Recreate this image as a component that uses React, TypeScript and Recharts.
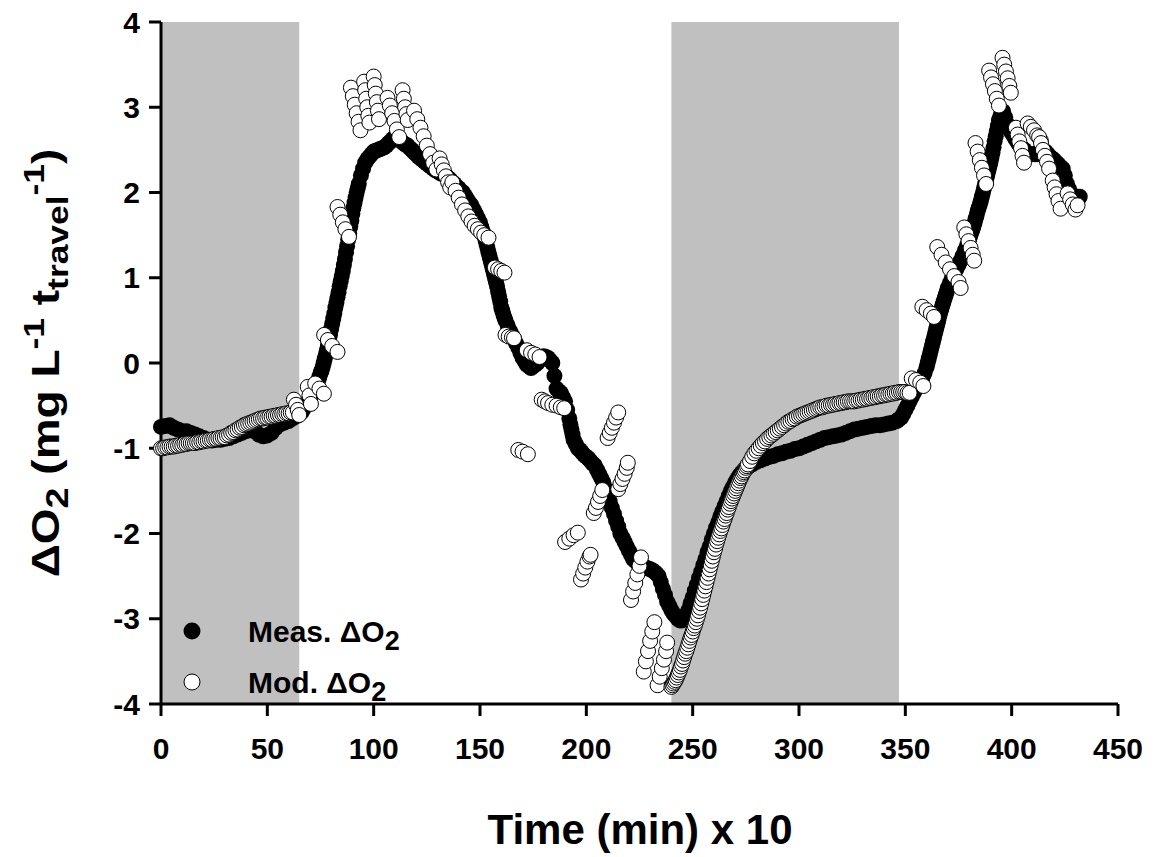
import { Label, Legend, ReferenceArea, Scatter, ScatterChart, XAxis, YAxis } from "recharts";

const FONT = '"Liberation Sans", Arial, Helvetica, sans-serif';

const xTicks = [0, 50, 100, 150, 200, 250, 300, 350, 400, 450];
const yTicks = [-4, -3, -2, -1, 0, 1, 2, 3, 4];
// dark (shaded) periods, time (min) x 10
const darkPeriods: [number, number][] = [
  [0, 65],
  [240, 347],
];

// measured dO2, [time, value]
const measured: [number, number][] = [
  [0, -0.75], [2, -0.74], [4, -0.73], [6, -0.76], [8, -0.78], [10, -0.8], [12, -0.8], [14, -0.82],
  [16, -0.84], [18, -0.86], [20, -0.88], [22, -0.9], [24, -0.91], [26, -0.9], [28, -0.9], [30, -0.89],
  [32, -0.88], [34, -0.86], [36, -0.84], [38, -0.82], [40, -0.8], [42, -0.79], [44, -0.8], [46, -0.84],
  [48, -0.86], [50, -0.85], [52, -0.82], [54, -0.76], [56, -0.72], [58, -0.7], [60, -0.68], [62, -0.65],
  [64, -0.62], [65, -0.6], [66, -0.58], [67, -0.54], [68, -0.5], [69, -0.46], [70, -0.42], [71, -0.37],
  [72, -0.32], [73, -0.26], [74, -0.2], [74.5, -0.16], [75, -0.12], [75.5, -0.09], [76, -0.05], [76.5, 0.0],
  [77, 0.05], [77.5, 0.1], [78, 0.15], [78.5, 0.21], [79, 0.27], [79.5, 0.33], [80, 0.4], [80.5, 0.46],
  [81, 0.52], [81.5, 0.58], [82, 0.65], [82.5, 0.71], [83, 0.77], [83.5, 0.83], [84, 0.9], [84.5, 0.96],
  [85, 1.02], [85.5, 1.08], [86, 1.15], [86.5, 1.22], [87, 1.3], [87.5, 1.37], [88, 1.45], [88.5, 1.52],
  [89, 1.6], [89.5, 1.67], [90, 1.75], [90.5, 1.82], [91, 1.88], [91.5, 1.94], [92, 2.0], [92.5, 2.05],
  [93, 2.1], [94, 2.2], [95, 2.28], [96, 2.35], [97, 2.39], [98, 2.42], [99, 2.45], [100, 2.48],
  [101, 2.49], [102, 2.5], [103, 2.51], [104, 2.52], [105, 2.53], [106, 2.55], [107, 2.58], [108, 2.6],
  [109, 2.63], [110, 2.65], [111, 2.64], [112, 2.62], [113, 2.6], [114, 2.58], [115, 2.56], [116, 2.55],
  [117, 2.52], [118, 2.5], [119, 2.47], [120, 2.45], [121, 2.42], [122, 2.4], [123, 2.38], [124, 2.36],
  [125, 2.34], [126, 2.32], [127, 2.3], [128, 2.28], [129, 2.26], [130, 2.25], [131, 2.23], [132, 2.22],
  [133, 2.21], [134, 2.2], [135, 2.17], [136, 2.15], [137, 2.12], [138, 2.1], [139, 2.07], [140, 2.05],
  [141, 2.02], [142, 2.0], [143, 1.96], [144, 1.92], [145, 1.88], [146, 1.85], [147, 1.8], [148, 1.75],
  [149, 1.7], [150, 1.65], [150.5, 1.6], [151, 1.56], [151.5, 1.53], [152, 1.5], [152.5, 1.45], [153, 1.4],
  [153.5, 1.35], [154, 1.3], [154.5, 1.25], [155, 1.2], [155.5, 1.15], [156, 1.1], [156.5, 1.05], [157, 1.0],
  [157.5, 0.95], [158, 0.9], [158.5, 0.84], [159, 0.78], [159.5, 0.72], [160, 0.65], [160.5, 0.61], [161, 0.57],
  [161.5, 0.53], [162, 0.5], [163, 0.44], [164, 0.38], [165, 0.33], [166, 0.28], [167, 0.23], [168, 0.18],
  [169, 0.12], [170, 0.06], [171, 0.02], [172, -0.02], [173, -0.04], [174, -0.06], [175, -0.04], [176, -0.02],
  [177, 0.0], [178, 0.03], [179, 0.06], [180, 0.08], [181, 0.07], [182, 0.06], [183, 0.03], [184, 0.0],
  [185, -0.15], [186, -0.3], [187, -0.33], [188, -0.35], [189, -0.4], [190, -0.45], [191, -0.55], [192, -0.65],
  [192.5, -0.72], [193, -0.78], [193.5, -0.84], [194, -0.9], [195, -0.95], [196, -1.0], [197, -1.02], [198, -1.05],
  [199, -1.08], [200, -1.1], [201, -1.12], [202, -1.15], [203, -1.18], [204, -1.2], [205, -1.25], [206, -1.3],
  [207, -1.35], [208, -1.4], [209, -1.47], [210, -1.55], [211, -1.62], [212, -1.7], [213, -1.77], [214, -1.85],
  [215, -1.92], [216, -2.0], [217, -2.05], [218, -2.1], [219, -2.15], [220, -2.2], [221, -2.25], [222, -2.3],
  [223, -2.32], [224, -2.35], [225, -2.37], [226, -2.38], [227, -2.39], [228, -2.4], [229, -2.41], [230, -2.42],
  [231, -2.43], [232, -2.45], [233, -2.47], [234, -2.5], [235, -2.57], [236, -2.65], [237, -2.72], [238, -2.8],
  [239, -2.85], [240, -2.9], [241, -2.94], [242, -2.97], [243, -3.0], [244, -3.02], [245, -3.02], [246, -3.0],
  [247, -2.95], [248, -2.9], [249, -2.82], [250, -2.75], [251, -2.67], [252, -2.6], [253, -2.52], [254, -2.45],
  [255, -2.37], [256, -2.3], [257, -2.22], [258, -2.15], [259, -2.07], [260, -2.0], [261, -1.93], [262, -1.87],
  [263, -1.8], [264, -1.74], [265, -1.68], [266, -1.62], [267, -1.56], [268, -1.5], [269, -1.45], [270, -1.4],
  [271, -1.36], [272, -1.32], [273, -1.29], [274, -1.26], [275, -1.24], [276, -1.22], [278, -1.19], [280, -1.16],
  [282, -1.14], [284, -1.12], [286, -1.1], [288, -1.09], [290, -1.07], [292, -1.06], [294, -1.04], [296, -1.03],
  [298, -1.01], [300, -1.0], [302, -0.98], [304, -0.96], [306, -0.94], [308, -0.92], [310, -0.9], [312, -0.88],
  [314, -0.87], [316, -0.86], [318, -0.85], [320, -0.84], [322, -0.82], [324, -0.8], [326, -0.78], [328, -0.77],
  [330, -0.76], [332, -0.75], [334, -0.74], [336, -0.73], [338, -0.73], [340, -0.72], [342, -0.71], [344, -0.7],
  [346, -0.68], [347, -0.66], [348, -0.64], [349, -0.6], [350, -0.55], [351, -0.5], [352, -0.45], [353, -0.4],
  [354, -0.35], [355, -0.3], [356, -0.25], [357, -0.21], [358, -0.18], [359, -0.12], [360, -0.05], [360.5, 0.0],
  [361, 0.05], [361.5, 0.1], [362, 0.15], [362.5, 0.2], [363, 0.25], [363.5, 0.3], [364, 0.35], [364.5, 0.4],
  [365, 0.45], [365.5, 0.5], [366, 0.55], [366.5, 0.6], [367, 0.64], [367.5, 0.68], [368, 0.72], [368.5, 0.76],
  [369, 0.8], [369.5, 0.84], [370, 0.88], [371, 0.94], [372, 1.0], [373, 1.05], [374, 1.1], [375, 1.15],
  [376, 1.2], [377, 1.26], [378, 1.32], [379, 1.38], [380, 1.45], [380.5, 1.49], [381, 1.53], [381.5, 1.56],
  [382, 1.6], [382.5, 1.64], [383, 1.69], [383.5, 1.73], [384, 1.78], [384.5, 1.82], [385, 1.86], [385.5, 1.9],
  [386, 1.95], [386.5, 2.0], [387, 2.05], [387.5, 2.1], [388, 2.15], [388.5, 2.2], [389, 2.25], [389.5, 2.3],
  [390, 2.35], [390.5, 2.41], [391, 2.47], [391.5, 2.53], [392, 2.6], [392.5, 2.66], [393, 2.72], [393.5, 2.78],
  [394, 2.85], [394.5, 2.88], [395, 2.92], [395.5, 2.94], [396, 2.95], [397, 2.88], [398, 2.8], [399, 2.75],
  [400, 2.7], [401, 2.66], [402, 2.62], [403, 2.58], [404, 2.55], [405, 2.52], [406, 2.5], [407, 2.47],
  [408, 2.45], [409, 2.45], [410, 2.45], [411, 2.45], [412, 2.45], [413, 2.48], [414, 2.5], [415, 2.49],
  [416, 2.48], [417, 2.45], [418, 2.42], [419, 2.4], [420, 2.38], [421, 2.35], [422, 2.33], [423, 2.3],
  [424, 2.28], [425, 2.2], [426, 2.1], [427, 2.04], [428, 1.98], [429, 1.96], [430, 1.95], [431, 1.95],
  [432, 1.95],
];

// modelled dO2, [time, value]
const modeled: [number, number][] = [
  [0, -1.0], [1, -1.0], [2, -0.99], [3, -0.99], [4, -0.98], [5, -0.98], [6, -0.98], [7, -0.97],
  [8, -0.97], [9, -0.96], [10, -0.96], [11, -0.95], [12, -0.95], [13, -0.94], [14, -0.94], [15, -0.94],
  [16, -0.94], [17, -0.93], [18, -0.93], [19, -0.92], [20, -0.92], [21, -0.91], [22, -0.91], [23, -0.9],
  [24, -0.9], [25, -0.89], [26, -0.89], [27, -0.88], [28, -0.88], [29, -0.87], [30, -0.87], [31, -0.85],
  [32, -0.84], [33, -0.82], [34, -0.81], [35, -0.79], [36, -0.78], [37, -0.76], [38, -0.75], [39, -0.73],
  [40, -0.72], [41, -0.71], [42, -0.7], [43, -0.69], [44, -0.68], [45, -0.67], [46, -0.66], [47, -0.65],
  [48, -0.65], [49, -0.64], [50, -0.64], [51, -0.63], [52, -0.63], [53, -0.62], [54, -0.62], [55, -0.61],
  [56, -0.61], [57, -0.6], [58, -0.6], [59, -0.59], [60, -0.59], [61, -0.58], [62, -0.58],
  [62.5, -0.43], [63.5, -0.49], [64.3, -0.55], [65, -0.61],
  [69, -0.28], [69.8, -0.38], [70.5, -0.48],
  [72.5, -0.24], [74.5, -0.3], [76.6, -0.36],
  [76.7, 0.33], [78.5, 0.27], [80.5, 0.2], [83, 0.13],
  [83, 1.83], [84.3, 1.74], [85.5, 1.65], [86.7, 1.57], [88.4, 1.48],
  [89.3, 3.23], [90.2, 3.13], [91.1, 3.03], [92, 2.93], [92.9, 2.83], [93.8, 2.73],
  [95.5, 3.3], [96, 3.2], [96.5, 3.1], [97, 3.0], [97.5, 2.9], [98, 2.82],
  [100, 3.36], [100.5, 3.26], [101, 3.16], [101.5, 3.06], [102, 2.96], [102.5, 2.86],
  [106.5, 3.11], [107.6, 3.02], [108.7, 2.93], [109.8, 2.84], [110.9, 2.74], [112, 2.65],
  [113.6, 3.2], [114.2, 3.1], [114.8, 3.0], [115.4, 2.92], [116, 2.85],
  [119, 2.96], [120.5, 2.86], [122, 2.76], [123.5, 2.66], [125, 2.55], [126.5, 2.45], [128, 2.35], [129.5, 2.27],
  [131, 2.4], [132, 2.33], [133, 2.26], [134, 2.19], [135, 2.12], [136, 2.06],
  [137, 2.12], [138.5, 2.02], [140, 1.94], [141.5, 1.86], [143, 1.79], [144.5, 1.72], [146, 1.66], [147.5, 1.61],
  [149, 1.57], [150.5, 1.53], [152, 1.5], [154, 1.47],
  [157, 1.12], [158.5, 1.1], [160, 1.08], [161.5, 1.06],
  [162, 0.33], [163.5, 0.31], [165, 0.3], [166, 0.29],
  [168, -1.02], [170, -1.04], [172.5, -1.07],
  [172, 0.15], [174, 0.12], [176, 0.1], [178, 0.07],
  [179, -0.43], [180.5, -0.45], [182, -0.47], [184, -0.49], [186, -0.5], [188, -0.52], [189.6, -0.53],
  [190, -2.1], [192, -2.06], [194, -2.02], [196, -1.99],
  [197.5, -2.54], [198.5, -2.47], [199.5, -2.4], [200.5, -2.33], [201.5, -2.27], [202, -2.25],
  [203.5, -1.76], [204.5, -1.7], [205.5, -1.63], [206.5, -1.56], [207.5, -1.49],
  [210, -0.88], [211, -0.82], [212, -0.76], [213, -0.7], [214, -0.64], [215, -0.58],
  [215, -1.48], [216, -1.42], [217, -1.36], [218, -1.3], [219, -1.23], [219.5, -1.17],
  [221, -2.78], [222, -2.68], [223, -2.58], [224, -2.48], [225, -2.38], [225.7, -2.28],
  [227, -3.62], [228, -3.5], [229, -3.38], [230, -3.26], [231, -3.15], [232, -3.04],
  [233.5, -3.78], [234.5, -3.68], [235.5, -3.58], [236.5, -3.48], [237.5, -3.38], [238, -3.28],
  [240, -3.8], [240.5, -3.78], [241, -3.76], [241.5, -3.74], [242, -3.72], [242.5, -3.69], [243, -3.66], [243.5, -3.63],
  [244, -3.6], [244.5, -3.56], [245, -3.53], [245.5, -3.49], [246, -3.45], [246.5, -3.41], [247, -3.38], [247.5, -3.34],
  [248, -3.3], [248.5, -3.26], [249, -3.22], [249.5, -3.19], [250, -3.15], [250.5, -3.11], [251, -3.08], [251.5, -3.04],
  [252, -3.0], [252.5, -2.96], [253, -2.91], [253.5, -2.87], [254, -2.82], [254.5, -2.77], [255, -2.72], [255.5, -2.67],
  [256, -2.62], [256.5, -2.57], [257, -2.52], [257.5, -2.47], [258, -2.42], [258.5, -2.37], [259, -2.32], [259.5, -2.27],
  [260, -2.22], [260.5, -2.18], [261, -2.13], [261.5, -2.09], [262, -2.05], [262.5, -2.01], [263, -1.97], [263.5, -1.94],
  [264, -1.9], [264.5, -1.86], [265, -1.83], [265.5, -1.79], [266, -1.76], [266.5, -1.72], [267, -1.69], [267.5, -1.65],
  [268, -1.62], [268.5, -1.59], [269, -1.56], [269.5, -1.53], [270, -1.5], [270.5, -1.47], [271, -1.44], [271.5, -1.41],
  [272, -1.38], [272.5, -1.35], [273, -1.33], [273.5, -1.3], [274, -1.28], [274.5, -1.26], [275, -1.23], [275.5, -1.21],
  [276, -1.19], [277, -1.15], [278, -1.1], [279, -1.06], [280, -1.03], [281, -1.0], [282, -0.97], [283, -0.94],
  [284, -0.92], [285, -0.89], [286, -0.87], [287, -0.85], [288, -0.83], [289, -0.81], [290, -0.79], [291, -0.77],
  [292, -0.75], [293, -0.73], [294, -0.71], [295, -0.69], [296, -0.68], [297, -0.66], [298, -0.65], [299, -0.63],
  [300, -0.62], [301, -0.61], [302, -0.6], [303, -0.59], [304, -0.58], [305, -0.57], [306, -0.56], [307, -0.55],
  [308, -0.54], [309, -0.53], [310, -0.52], [311, -0.52], [312, -0.51], [313, -0.5], [314, -0.5], [315, -0.49],
  [316, -0.49], [317, -0.48], [318, -0.48], [319, -0.47], [320, -0.47], [321, -0.46], [322, -0.46], [323, -0.45],
  [324, -0.45], [325, -0.45], [326, -0.45], [327, -0.44], [328, -0.44], [329, -0.43], [330, -0.43], [331, -0.42],
  [332, -0.42], [333, -0.41], [334, -0.41], [335, -0.4], [336, -0.4], [337, -0.39], [338, -0.39], [339, -0.38],
  [340, -0.38], [341, -0.37], [342, -0.37], [343, -0.36], [344, -0.36], [345, -0.35], [346, -0.35], [347, -0.34],
  [348, -0.34], [349, -0.34], [350, -0.34], [351, -0.35], [352, -0.35],
  [353, -0.18], [355, -0.2], [357, -0.23], [358.5, -0.27],
  [358, 0.66], [360, 0.62], [362, 0.58], [363.5, 0.54],
  [365, 1.36], [367, 1.27], [369, 1.18], [371, 1.1], [373, 1.02], [375, 0.95], [376, 0.88],
  [377.7, 1.59], [378.7, 1.51], [379.7, 1.43], [380.7, 1.35], [381.7, 1.27], [382.4, 1.2],
  [383, 2.58], [384, 2.48], [385, 2.38], [386, 2.29], [387, 2.2], [388, 2.1],
  [389.4, 3.43], [390.3, 3.35], [391.2, 3.27], [392.1, 3.19], [393, 3.1], [394, 3.02],
  [395.7, 3.58], [396.5, 3.5], [397.3, 3.42], [398.1, 3.34], [398.9, 3.25], [399.6, 3.17],
  [402, 2.76], [402.8, 2.68], [403.6, 2.6], [404.4, 2.52], [405.1, 2.43], [405.8, 2.35],
  [407.5, 2.81], [409, 2.77], [410.5, 2.73], [412, 2.67], [413.7, 2.61],
  [412.9, 2.65], [413.8, 2.58], [414.7, 2.5], [415.6, 2.43], [416.6, 2.36], [417.6, 2.28],
  [419.3, 2.14], [420.2, 2.06], [421.1, 1.98], [422, 1.9], [423, 1.81],
  [426.3, 1.99], [427.5, 1.92], [428.7, 1.86], [430, 1.8], [431, 1.85],
];

const measData = measured.map(([t, v]) => ({ t, v }));
const modData = modeled.map(([t, v]) => ({ t, v }));

const blackDot = (p: any) => <circle cx={p.cx} cy={p.cy} r={8} fill="#000" />;
const whiteDot = (p: any) => (
  <circle cx={p.cx} cy={p.cy} r={7.5} fill="#fff" stroke="#000" strokeWidth={1} />
);

const tickStyle = { fill: "#000", fontSize: 30, fontWeight: "bold", fontFamily: FONT };
const lineStyle = { stroke: "#000", strokeWidth: 3 };

function LegendBox() {
  return (
    <svg width={320} height={110} style={{ display: "block" }}>
      <g fontFamily={FONT} fontWeight="bold" fontSize={30} fill="#000">
        <circle cx={17} cy={26} r={8.5} fill="#000" />
        <text x={73} y={37}>
          Meas. ΔO<tspan fontSize={27} dy={8}>2</tspan>
        </text>
        <circle cx={17} cy={77} r={8} fill="#fff" stroke="#000" strokeWidth={1} />
        <text x={73} y={88}>
          Mod. ΔO<tspan fontSize={27} dy={8}>2</tspan>
        </text>
      </g>
    </svg>
  );
}

export default function App() {
  return (
    <div style={{ position: "absolute", left: 0, top: 0, width: 1154, height: 857, background: "#fff" }}>
      <ScatterChart width={1154} height={857} margin={{ top: 22, right: 36, bottom: 0, left: 0 }}>
        {darkPeriods.map(([a, b]) => (
          <ReferenceArea key={a} x1={a} x2={b} y1={-4} y2={4} fill="#c0c0c0" fillOpacity={1} stroke="none" />
        ))}
        <XAxis
          type="number"
          dataKey="t"
          domain={[0, 450]}
          ticks={xTicks}
          height={153}
          tick={tickStyle}
          tickSize={12}
          tickMargin={22}
          tickLine={lineStyle}
          axisLine={lineStyle}
        >
          <Label
            content={() => (
              <text x={640} y={844} textAnchor="middle" fontFamily={FONT} fontWeight="bold" fontSize={42}>
                Time (min) x 10
              </text>
            )}
          />
        </XAxis>
        <XAxis xAxisId="top" orientation="top" type="number" domain={[0, 450]} height={0} tick={false} tickLine={false} axisLine={lineStyle} />
        <YAxis
          type="number"
          dataKey="v"
          domain={[-4, 4]}
          ticks={yTicks}
          width={161}
          tick={tickStyle}
          tickSize={12}
          tickMargin={9}
          tickLine={lineStyle}
          axisLine={lineStyle}
        >
          <Label
            content={() => (
              <text
                transform="translate(59,363) rotate(-90) scale(1.18,1)"
                textAnchor="middle"
                fontFamily={FONT}
                fontWeight="bold"
                fontSize={39}
                fill="#000"
              >
                ΔO<tspan fontSize={32} dy={9}>2</tspan>
                <tspan dy={-9}> (mg L</tspan>
                <tspan fontSize={30} dy={-15}>-1</tspan>
                <tspan dy={15}> t</tspan>
                <tspan fontSize={30} dy={9}>travel</tspan>
                <tspan fontSize={30} dy={-24}>-1</tspan>
                <tspan dy={15}>)</tspan>
              </text>
            )}
          />
        </YAxis>
        <YAxis yAxisId="right" orientation="right" type="number" domain={[-4, 4]} width={0} tick={false} tickLine={false} axisLine={lineStyle} />
        <Scatter name="Meas." data={measData} shape={blackDot} isAnimationActive={false} />
        <Scatter name="Mod." data={modData} shape={whiteDot} isAnimationActive={false} />
        <Legend
          layout="vertical"
          align="center"
          verticalAlign="middle"
          wrapperStyle={{ left: 175, top: 605, width: 320, height: 110 }}
          content={() => <LegendBox />}
        />
      </ScatterChart>
    </div>
  );
}
